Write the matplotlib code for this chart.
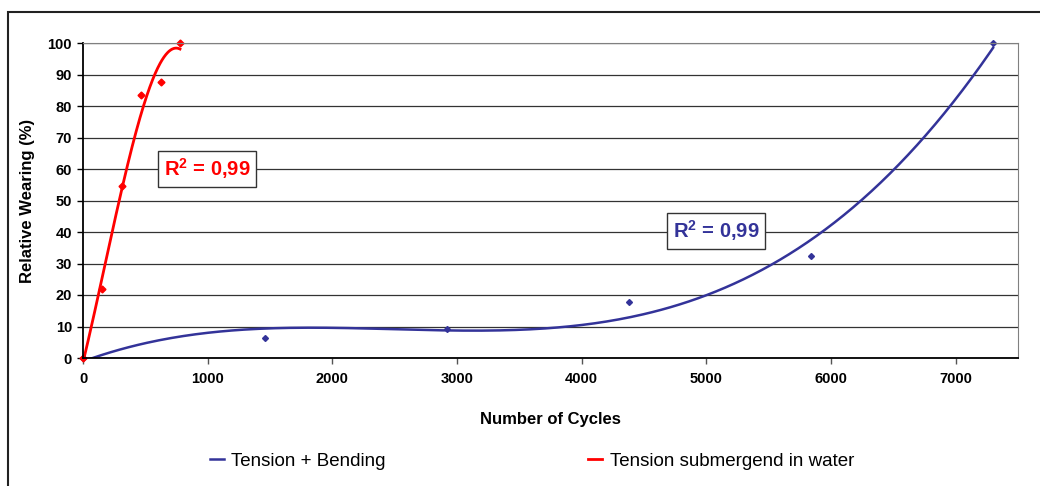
import matplotlib
matplotlib.use("Agg")
import matplotlib.pyplot as plt
import matplotlib.patches as patches
import numpy as np

plt.rcParams['font.family'] = ['Liberation Sans', 'DejaVu Sans']
plt.rcParams['mathtext.fontset'] = 'custom'
plt.rcParams['mathtext.rm'] = 'Liberation Sans'
plt.rcParams['mathtext.bf'] = 'Liberation Sans:bold'

# data
cycles_bend = [0, 1460, 2920, 4380, 5840, 7300]
wear_bend = [0, 6.5, 9.2, 17.7, 32.5, 100]
cycles_water = [0, 155, 312, 467, 622, 778]
wear_water = [0, 22, 54.5, 83.5, 87.5, 100]

x_ticks = [0, 1000, 2000, 3000, 4000, 5000, 6000, 7000]
y_ticks = [0, 10, 20, 30, 40, 50, 60, 70, 80, 90, 100]

blue = '#333399'
red = '#ff0000'

fig = plt.figure(figsize=(10.4, 4.86), dpi=100)
ax = fig.add_axes([83/1040, 1-358/486, (1018-83)/1040, (358-43)/486])

# polynomial trend lines (3rd order) like the excel trendline
p_b = np.polyfit(cycles_bend, wear_bend, 3)
xb = np.linspace(0, cycles_bend[-1], 300)
ax.plot(xb, np.polyval(p_b, xb), color=blue, lw=1.8, label='Tension + Bending')
p_r = np.polyfit(cycles_water, wear_water, 3)
xr = np.linspace(0, cycles_water[-1], 200)
ax.plot(xr, np.polyval(p_r, xr), color=red, lw=2, label='Tension submergend in water')

ax.plot(cycles_bend, wear_bend, 'D', color=blue, ms=3, ls='none', clip_on=False)
ax.plot(cycles_water, wear_water, 'D', color=red, ms=3.5, ls='none', clip_on=False)

ax.set_xlim(0, 7500)
ax.set_ylim(0, 100)
ax.set_xticks(x_ticks)
ax.set_yticks(y_ticks)
ax.yaxis.grid(True, color='#333333', lw=0.9)
ax.set_axisbelow(True)
for t in ax.get_xticklabels() + ax.get_yticklabels():
    t.set_fontweight('bold')
ax.tick_params(axis='y', length=4, width=1, pad=4, labelsize=10.5)
ax.tick_params(axis='x', length=4, width=1, pad=6, labelsize=10.5, color='#555555')
ax.spines['left'].set_color('black')
ax.spines['bottom'].set_color('black')
ax.spines['left'].set_linewidth(1.3)
ax.spines['bottom'].set_linewidth(1.3)
ax.spines['top'].set_color('#808080')
ax.spines['right'].set_color('#808080')

ax.set_xlabel('Number of Cycles', fontsize=12, fontweight='bold', labelpad=19)
ax.set_ylabel('Relative Wearing (%)', fontsize=12, fontweight='bold', labelpad=9)

box = dict(boxstyle='square,pad=0.3', fc='white', ec='#333333', lw=1)
r2 = r'R$^{\mathbf{2}}$ = 0,99'
fig.text(207/1040, 1-169/486, r2, color=red, fontsize=14.5, fontweight='bold',
         ha='center', va='center', bbox=box)
fig.text(716/1040, 1-231/486, r2, color=blue, fontsize=14.5, fontweight='bold',
         ha='center', va='center', bbox=box)

fig.legend(loc='center', bbox_to_anchor=(532/1040, 1-461/486), ncol=2, frameon=False,
           fontsize=13.5, handlelength=0.75, handletextpad=0.4, columnspacing=10.8)

# outer chart frame
fig.patches.append(patches.Rectangle((8/1040, -0.1), 1.2, 1-12/486+0.1, fill=False,
                                     lw=1.5, ec='#222222', transform=fig.transFigure))

fig.savefig('out.png', dpi=100)
